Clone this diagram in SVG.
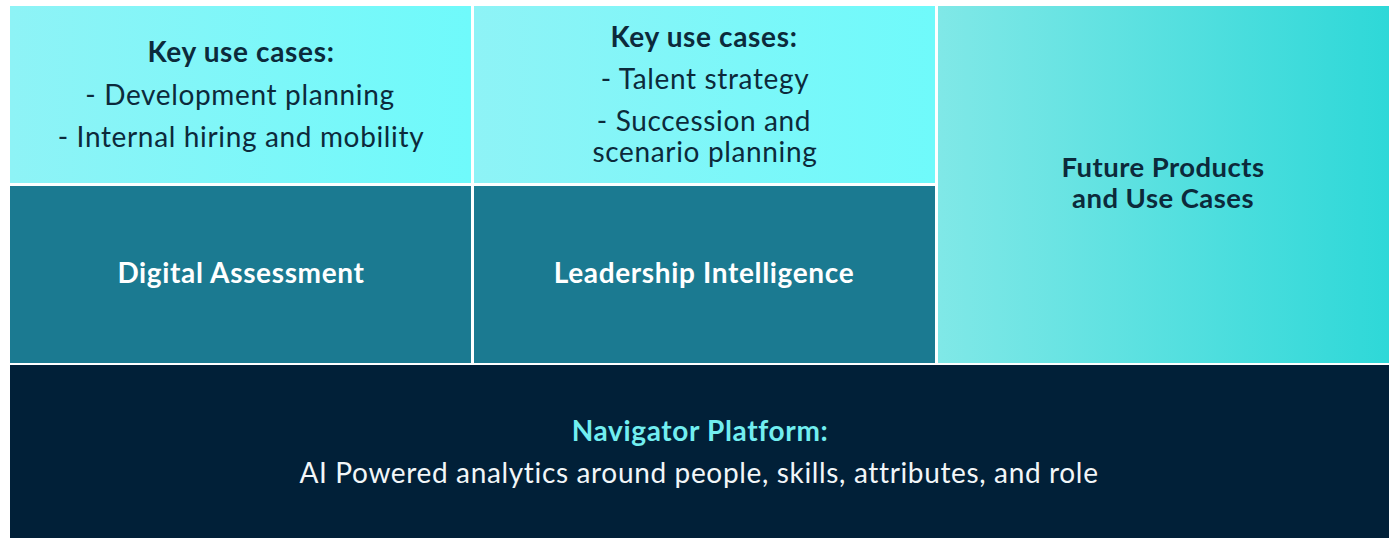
<svg xmlns="http://www.w3.org/2000/svg" width="1394" height="538" viewBox="0 0 1394 538">
<defs>
<linearGradient id="gTop" x1="0" y1="0" x2="1" y2="0">
<stop offset="0" stop-color="#8ef3f6"/>
<stop offset="1" stop-color="#6ffafb"/>
</linearGradient>
<linearGradient id="gFut" x1="0" y1="0" x2="1" y2="0">
<stop offset="0" stop-color="#80e8e7"/>
<stop offset="1" stop-color="#2ed8d8"/>
</linearGradient>
<style>
text{font-family:"Lato","Noto Sans",sans-serif;text-anchor:middle;font-size:28px;letter-spacing:0.65px}
.dk{fill:#0c2a3b}
.h{font-weight:700}
.w{fill:#ffffff;font-weight:700}
.f{font-size:27.5px;letter-spacing:0.45px}
</style>
</defs>
<rect x="0" y="0" width="1394" height="538" fill="#ffffff"/>
<g id="usecases-assessment">
<rect x="10" y="6" width="461" height="177" fill="url(#gTop)"/>
<text class="dk h" x="241" y="62">Key use cases:</text>
<text class="dk" x="240" y="105">- Development planning</text>
<text class="dk" x="241" y="147">- Internal hiring and mobility</text>
</g>
<g id="usecases-leadership">
<rect x="474" y="6" width="461" height="177" fill="url(#gTop)"/>
<text class="dk h" x="704" y="47">Key use cases:</text>
<text class="dk" x="705" y="89">- Talent strategy</text>
<text class="dk" x="704" y="131">- Succession and</text>
<text class="dk" x="705" y="162">scenario planning</text>
</g>
<g id="digital-assessment">
<rect x="10" y="186" width="461" height="177" fill="#1b7a91"/>
<text class="w" x="241" y="283">Digital Assessment</text>
</g>
<g id="leadership-intelligence">
<rect x="474" y="186" width="461" height="177" fill="#1b7a91"/>
<text class="w" x="704" y="283">Leadership Intelligence</text>
</g>
<g id="future">
<rect x="938" y="6" width="451" height="357" fill="url(#gFut)"/>
<text class="dk h f" x="1163" y="177">Future Products</text>
<text class="dk h f" x="1163" y="208">and Use Cases</text>
</g>
<g id="navigator">
<rect x="10" y="365" width="1379" height="173" fill="#012038"/>
<text x="700" y="441" font-weight="700" fill="#72eef0">Navigator Platform:</text>
<text x="699" y="483" fill="#f2f6f8">AI Powered analytics around people, skills, attributes, and role</text>
</g>
<g id="connectors"></g>
</svg>
